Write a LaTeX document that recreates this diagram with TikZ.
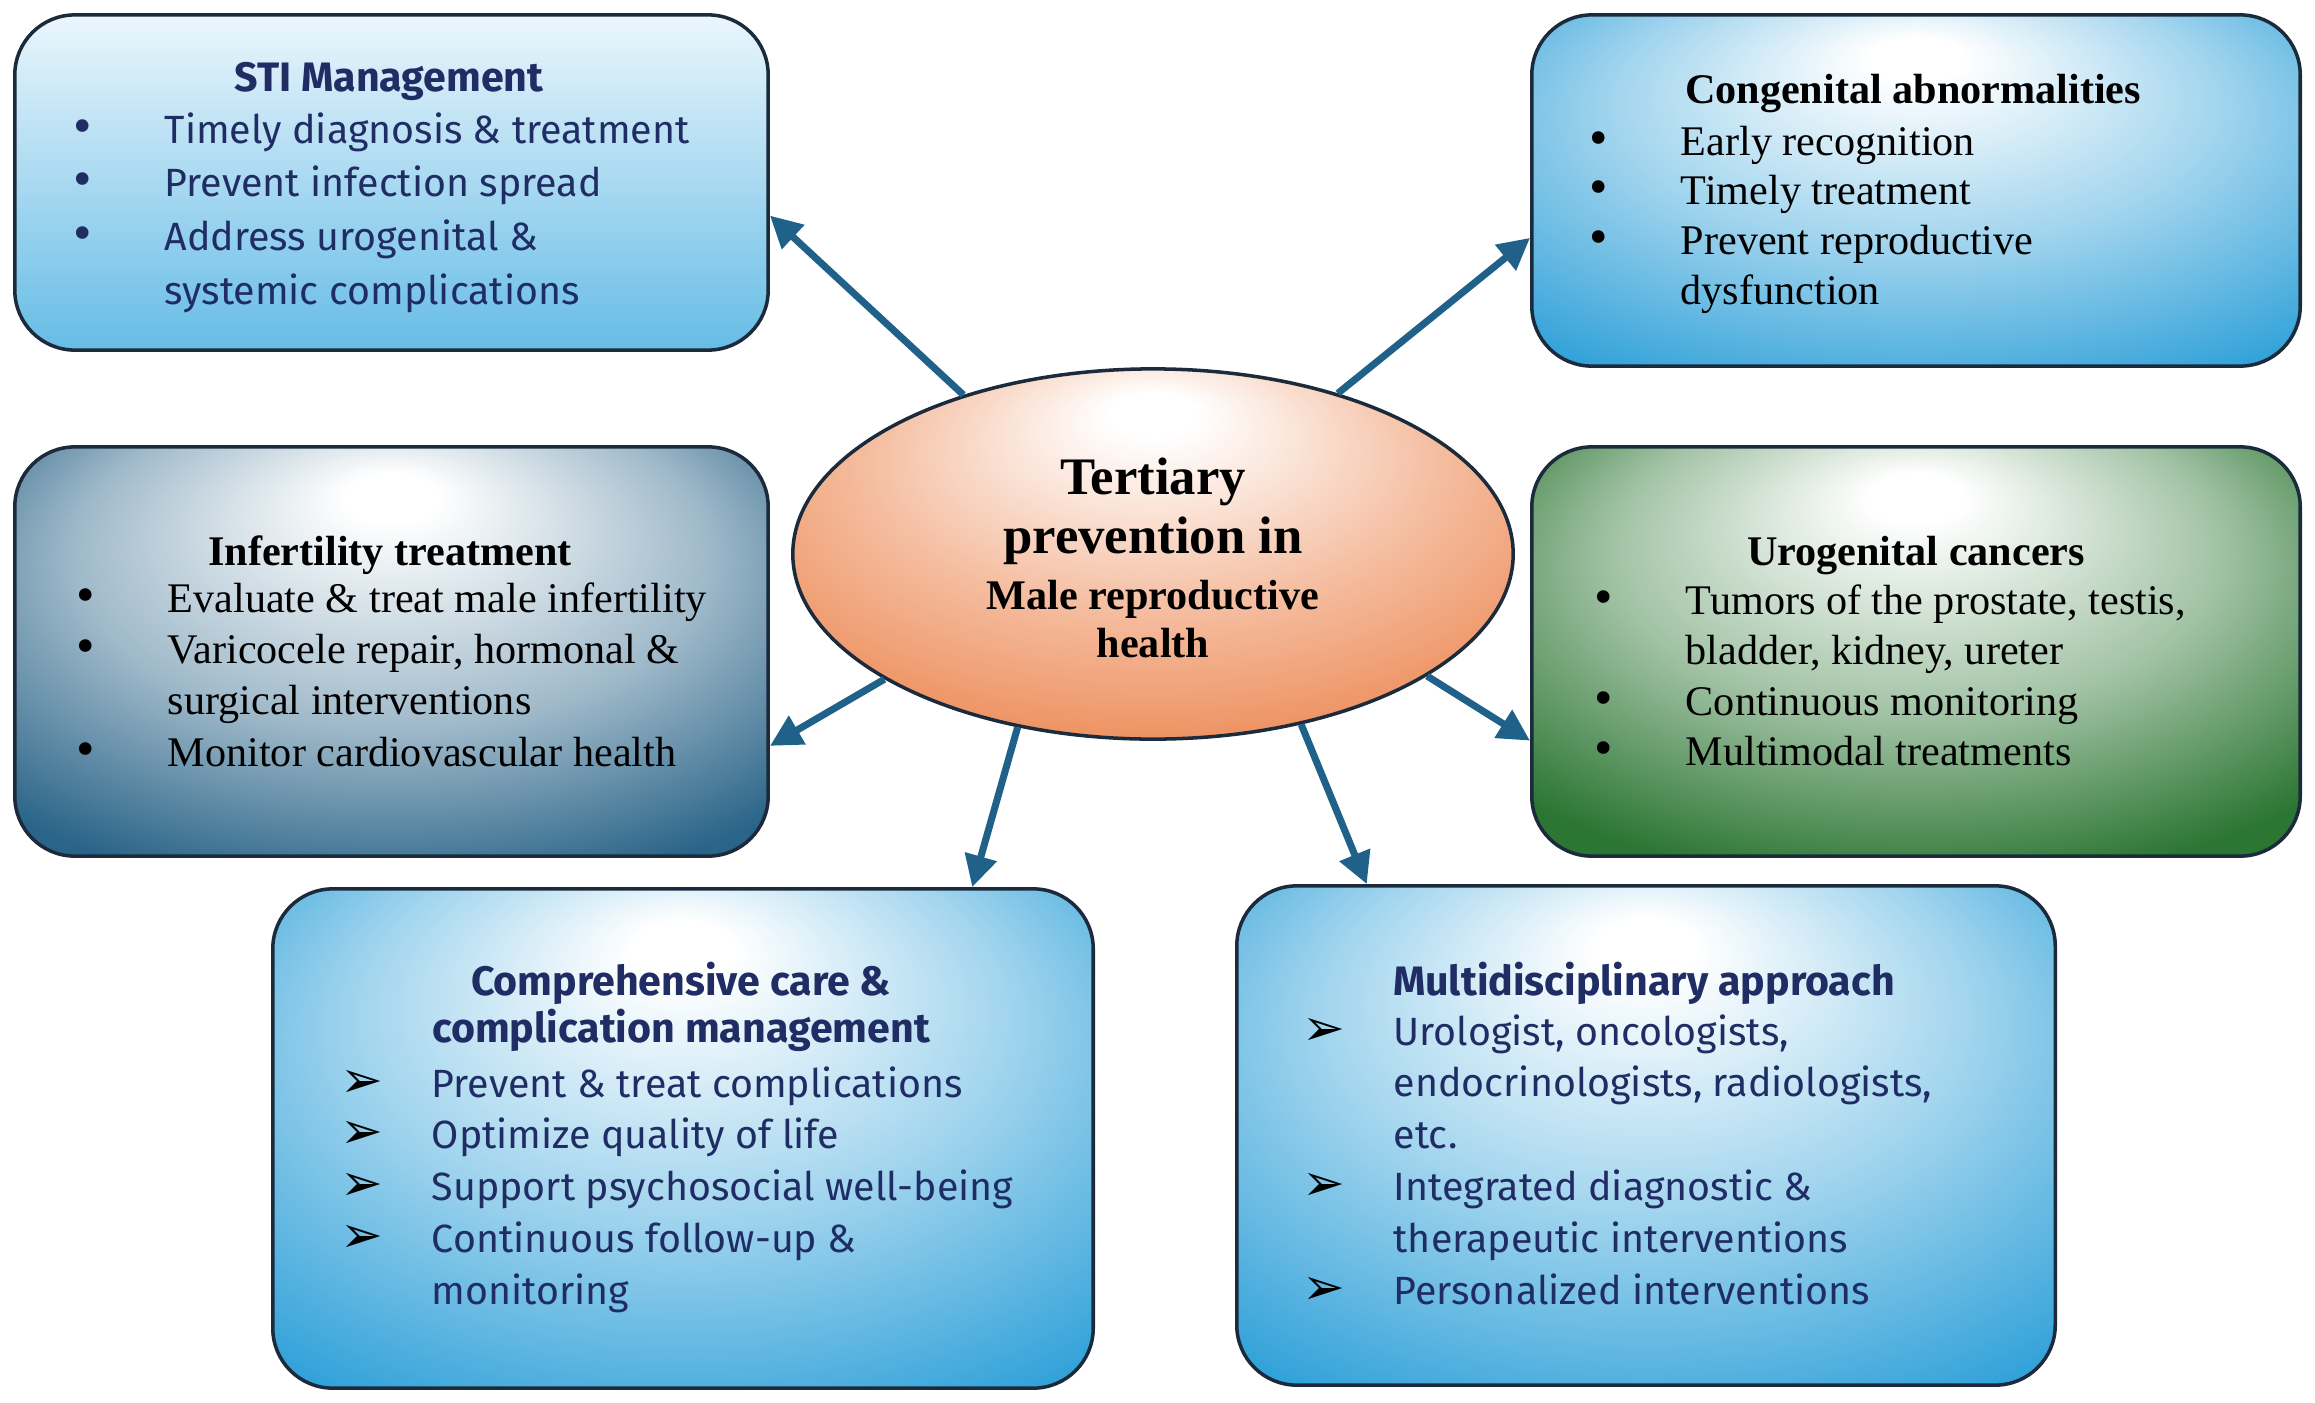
\documentclass[tikz,border=0pt]{standalone}
\usepackage{fontspec}
\setmainfont{Liberation Serif}
\newfontfamily\aptos{Fira Sans}
\newfontfamily\dingfont{DejaVu Sans}
\usetikzlibrary{shapes.geometric,arrows.meta}
\definecolor{edgec}{HTML}{1B2B3C}
\definecolor{arrowc}{HTML}{1F6189}
\definecolor{navy}{HTML}{1F2D64}
\definecolor{skyb}{HTML}{2C9FD8}
\definecolor{steel}{HTML}{2A6488}
\definecolor{grn}{HTML}{2C7633}
\definecolor{orng}{HTML}{EC8650}
\definecolor{stitop}{HTML}{EBF6FC}
\definecolor{stibot}{HTML}{66BCE6}
\colorlet{skymid}{skyb!45!white}
\colorlet{steelmid}{steel!45!white}
\colorlet{grnmid}{grn!45!white}
\colorlet{orngmid}{orng!55!white}
\pgfdeclareradialshading{shSky}{\pgfpoint{0bp}{20bp}}{color(0bp)=(white); color(3bp)=(white); color(20bp)=(skymid); color(38bp)=(skyb); color(50bp)=(skyb)}
\pgfdeclareradialshading{shSteel}{\pgfpoint{0bp}{20bp}}{color(0bp)=(white); color(3bp)=(white); color(21bp)=(steelmid); color(36bp)=(steel); color(50bp)=(steel)}
\pgfdeclareradialshading{shGrn}{\pgfpoint{0bp}{20bp}}{color(0bp)=(white); color(3bp)=(white); color(20bp)=(grnmid); color(35bp)=(grn); color(50bp)=(grn)}
\pgfdeclareradialshading{shOrng}{\pgfpoint{0bp}{20bp}}{color(0bp)=(white); color(3bp)=(white); color(20bp)=(orngmid); color(36bp)=(orng); color(50bp)=(orng)}
\newcommand{\arrb}{\makebox[0.91cm][l]{\smash{\textcolor{black}{\dingfont\fontsize{14.5}{14}\selectfont\char"27A2}}}}
\newcommand{\dotb}{\makebox[0.91cm][l]{\smash{\rmfamily\fontsize{15}{14}\selectfont •}}}
\begin{document}
\begin{tikzpicture}[x=0.01cm,y=-0.01cm,
  box/.style={draw=edgec, line width=1pt, rounded corners=0.6cm, inner sep=0pt},
  arr/.style={draw=arrowc, line width=2pt, -{Triangle[length=9pt,width=9pt]}},
  sansT/.style={font=\aptos\bfseries\fontsize{11.7}{13.4}\selectfont, text=navy, inner sep=0pt, anchor=base},
  sansB/.style={text=navy, inner sep=0pt, anchor=base west},
  serT/.style={font=\bfseries\fontsize{12}{14}\selectfont, inner sep=0pt, anchor=base},
  serB/.style={inner sep=0pt, anchor=base west}]
\useasboundingbox[fill=white] (0,0) rectangle (2315,1403);

% boxes
\node[box, top color=stitop, bottom color=stibot, minimum width=7.53cm, minimum height=3.35cm] (sti) at (391.5,182.5) {};
\node[box, shading=shSky, minimum width=7.68cm, minimum height=3.51cm] (cong) at (1916,190.5) {};
\node[box, shading=shSteel, minimum width=7.53cm, minimum height=4.09cm] (inf) at (391.5,651.5) {};
\node[box, shading=shGrn, minimum width=7.68cm, minimum height=4.09cm] (uro) at (1916,651.5) {};
\node[box, shading=shSky, minimum width=8.20cm, minimum height=4.99cm] (comp) at (683,1138.5) {};
\node[box, shading=shSky, minimum width=8.18cm, minimum height=4.99cm] (multi) at (1646,1135.5) {};
\node[ellipse, draw=edgec, line width=1pt, shading=shOrng, minimum width=7.2cm, minimum height=3.7cm, inner sep=0pt] (ell) at (1153,554) {};

% centre text
\node[inner sep=0pt, anchor=base, font=\bfseries\fontsize{15}{17.1}\selectfont] (ellT) at (1153,494)
  {\begin{tabular}[t]{@{}c@{}}Tertiary\\[-0.2pt] prevention in\\[-1.2pt] {\fontsize{12}{14}\selectfont Male reproductive}\\[-3.4pt] {\fontsize{12}{14}\selectfont health}\end{tabular}};

% STI
\node[sansT] (stiT) at (389,91) {STI Management};
\node[sansB, font=\aptos\fontsize{11.2}{15.3}\selectfont] (stiL) at (73,143)
  {\begin{tabular}[t]{@{}l@{}l@{}}
  \dotb & Timely diagnosis \& treatment\\
  \dotb & Prevent infection spread\\
  \dotb & Address urogenital \&\\
    & systemic complications
  \end{tabular}};

% Congenital
\node[serT] (congT) at (1913,103) {Congenital abnormalities};
\node[serB, font=\fontsize{12}{14.2}\selectfont] (congL) at (1589,155)
  {\begin{tabular}[t]{@{}l@{}l@{}}
  \dotb & Early recognition\\
  \dotb & Timely treatment\\
  \dotb & Prevent reproductive\\
    & dysfunction
  \end{tabular}};

% Infertility
\node[serT] (infT) at (390,565) {Infertility treatment};
\node[serB, font=\fontsize{12}{14.6}\selectfont] (infL) at (76,612)
  {\begin{tabular}[t]{@{}l@{}l@{}}
  \dotb & Evaluate \& treat male infertility\\
  \dotb & Varicocele repair, hormonal \&\\
    & surgical interventions\\
  \dotb & Monitor cardiovascular health
  \end{tabular}};

% Urogenital
\node[serT] (uroT) at (1916,565) {Urogenital cancers};
\node[serB, font=\fontsize{12}{14.4}\selectfont] (uroL) at (1594,614)
  {\begin{tabular}[t]{@{}l@{}l@{}}
  \dotb & Tumors of the prostate, testis,\\
    & bladder, kidney, ureter\\
  \dotb & Continuous monitoring\\
  \dotb & Multimodal treatments
  \end{tabular}};

% Comprehensive
\node[sansT] (compT) at (681,995)
  {\begin{tabular}[t]{@{}c@{}}Comprehensive care \&\\ complication management\end{tabular}};
\node[sansB, font=\aptos\fontsize{11.2}{14.75}\selectfont] (compL) at (340,1097)
  {\begin{tabular}[t]{@{}l@{}l@{}}
  \arrb & Prevent \& treat complications\\
  \arrb & Optimize quality of life\\
  \arrb & Support psychosocial well-being\\
  \arrb & Continuous follow-up \&\\
        & monitoring
  \end{tabular}};

% Multidisciplinary
\node[sansT] (multiT) at (1644,995) {Multidisciplinary approach};
\node[sansB, font=\aptos\fontsize{11.2}{14.75}\selectfont] (multiL) at (1302,1045)
  {\begin{tabular}[t]{@{}l@{}l@{}}
  \arrb & Urologist, oncologists,\\
        & endocrinologists, radiologists,\\
        & etc.\\
  \arrb & Integrated diagnostic \&\\
        & therapeutic interventions\\
  \arrb & Personalized interventions
  \end{tabular}};

% connectors
\draw[arr] (ell.140) -- (sti.-5);
\draw[arr] (ell.41) -- (cong.187);
\draw[arr] (ell.205) -- (inf.346);
\draw[arr] (ell.336) -- (uro.193);
\draw[arr] (ell.232) -- (comp.41);
\draw[arr] (ell.311) -- (multi.138);
\end{tikzpicture}
\end{document}
